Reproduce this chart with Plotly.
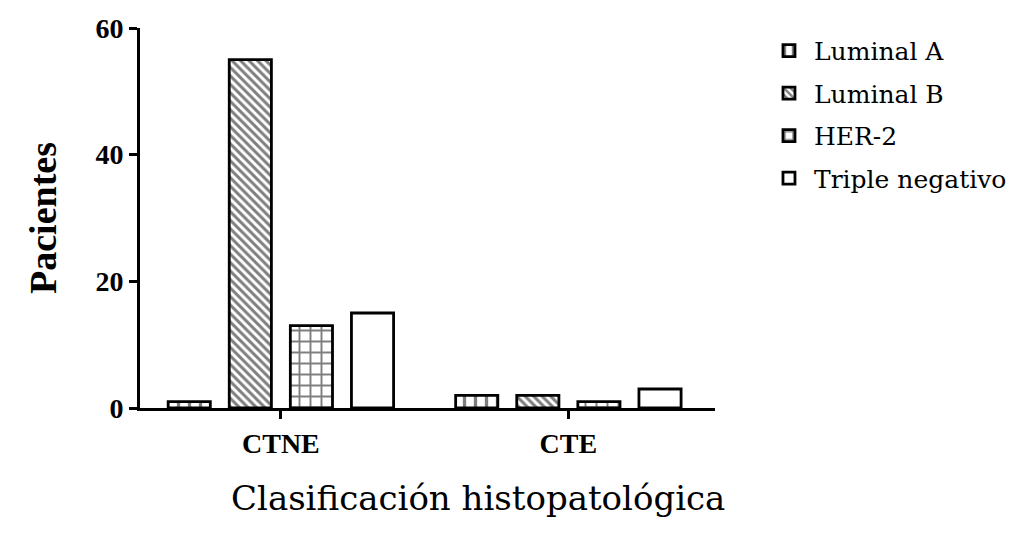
import plotly.graph_objects as go

# Data
categories = ["CTNE", "CTE"]
series_names = ["Luminal A", "Luminal B", "HER-2", "Triple negativo"]
luminal_a = [1, 2]
luminal_b = [55, 2]
her2 = [13, 1]
triple_negativo = [15, 3]
y_ticks = [0, 20, 40, 60]

BOLD_FONT = "Liberation Serif"
TEXT_FONT = "DejaVu Serif"

# hatch style per series
patterns = [
    dict(shape="|", size=11, solidity=0.3),
    dict(shape="\\", size=6, solidity=0.5),
    dict(shape="+", size=11, solidity=0.32),
    dict(shape="", size=10, solidity=0.2),
]

fig = go.Figure()
for name, values, pat in zip(series_names,
                             [luminal_a, luminal_b, her2, triple_negativo],
                             patterns):
    fig.add_trace(go.Bar(
        x=categories,
        y=values,
        name=name,
        legendgroup=name,
        marker=dict(
            color="white",
            line=dict(color="black", width=2.8),
            pattern=dict(fillmode="overlay", fgcolor="black",
                         bgcolor="white", **pat),
        ),
    ))

# x title sits right of the plot centre in the original, so it is an annotation
fig.add_annotation(
    text="Clasificación histopatológica",
    xref="paper", yref="paper", x=0.587, y=0,
    xanchor="center", yanchor="middle", yshift=-90,
    showarrow=False,
    font=dict(family=TEXT_FONT, size=34, color="black"),
)

# page body has an 8px margin, so the figure is 8px smaller than the window
fig.update_layout(
    width=1007,
    height=525,
    margin=dict(l=132, r=300, t=20, b=125),
    paper_bgcolor="white",
    plot_bgcolor="white",
    barmode="group",
    bargap=0.15,
    bargroupgap=0.31,
    font=dict(family=TEXT_FONT, color="black"),
    legend=dict(
        # placed against the figure edge so it does not squeeze the plot
        xref="container", yref="container",
        x=0.997, y=0.962, xanchor="right", yanchor="top",
        font=dict(family=TEXT_FONT, size=25, color="black"),
        itemwidth=40,
        tracegroupgap=7,
        bgcolor="rgba(0,0,0,0)",
    ),
    xaxis=dict(
        range=[-0.49, 1.51],
        automargin=False,
        showline=True, linecolor="black", linewidth=3,
        ticks="outside", ticklen=8, tickwidth=3, tickcolor="black",
        tickfont=dict(family=BOLD_FONT, size=28, weight="bold"),
        showgrid=False, zeroline=False,
    ),
    yaxis=dict(
        range=[0, 60],
        automargin=False,
        tickvals=y_ticks,
        showline=True, linecolor="black", linewidth=3,
        ticks="outside", ticklen=8, tickwidth=3, tickcolor="black",
        tickfont=dict(family=BOLD_FONT, size=28, weight="bold"),
        showgrid=False, zeroline=False,
        title=dict(text="Pacientes",
                   font=dict(family=BOLD_FONT, size=38, weight="bold"),
                   standoff=28),
    ),
)

fig.write_html("out.html")
